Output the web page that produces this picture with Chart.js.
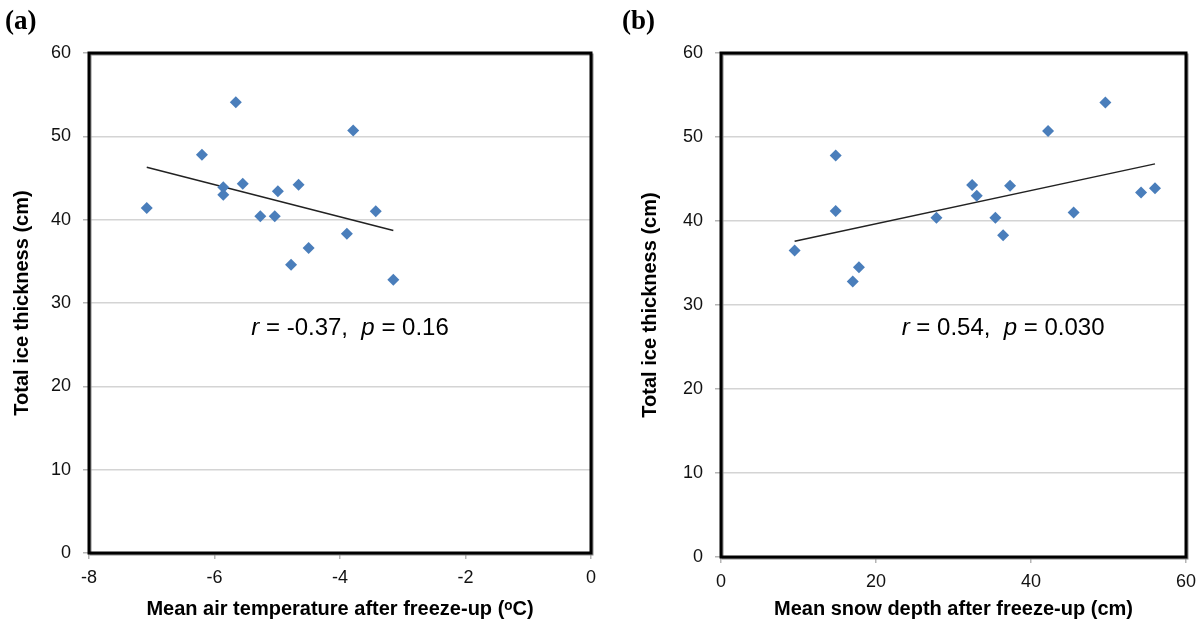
<!DOCTYPE html>
<html>
<head>
<meta charset="utf-8">
<script src="https://cdn.jsdelivr.net/npm/chart.js@4.4.1/dist/chart.umd.min.js"></script>
<style>
  html, body { margin: 0; padding: 0; background: #fff; }
  #wrap { position: relative; width: 1200px; height: 631px; }
  .panel { position: absolute; top: 0; width: 600px; height: 631px; }
</style>
</head>
<body>
<div id="wrap">
  <div class="panel" style="left:0"><canvas id="chartA" width="600" height="631"></canvas></div>
  <div class="panel" style="left:600px"><canvas id="chartB" width="600" height="631"></canvas></div>
</div>
<script>
// (a) mean air temperature after freeze-up vs total ice thickness
const airTemp = [-7.08, -6.20, -5.66, -5.86, -5.86, -5.55, -5.27, -5.04, -4.99, -4.66, -4.78, -4.50, -3.89, -3.79, -3.43, -3.15]
const iceA = [41.4, 47.8, 54.1, 43.9, 43.0, 44.3, 40.4, 40.4, 43.4, 44.2, 34.6, 36.6, 38.3, 50.7, 41.0, 32.8]
const trendAx = [-7.08, -3.15]
const trendAy = [46.3, 38.7]

// (b) mean snow depth after freeze-up vs total ice thickness
const snowDepth = [9.5, 14.8, 14.8, 17.0, 17.8, 27.8, 32.4, 33.0, 35.4, 36.4, 37.3, 42.2, 45.5, 49.6, 54.2, 56.0]
const iceB = [36.5, 47.8, 41.2, 32.8, 34.5, 40.4, 44.3, 43.0, 40.4, 38.3, 44.2, 50.7, 41.0, 54.1, 43.4, 43.9]
const trendBx = [9.5, 56.0]
const trendBy = [37.6, 46.8]

const yTicks = [0, 10, 20, 30, 40, 50, 60]
const xTicksA = [-8, -6, -4, -2, 0]
const xTicksB = [0, 20, 40, 60]

const SANS = "'Liberation Sans', Arial, sans-serif"
const SERIF = "'Liberation Serif', 'Times New Roman', serif"
const BLUE = "#4a7ebb"

const toPoints = (xs, ys) => xs.map((x, i) => ({ x: x, y: ys[i] }))

// Frame around the plot area, panel letter and the r / p note
const decorPlugin = {
  id: "decor",
  afterDatasetsDraw(chart, args, opts) {
    const { ctx, chartArea: a, scales } = chart
    ctx.save()
    ctx.lineJoin = "miter"
    ctx.strokeStyle = "#8a8a8a"
    ctx.lineWidth = 2
    ctx.strokeRect(a.left + 1.5, a.top + 1.5, a.right - a.left, a.bottom - a.top)
    ctx.strokeStyle = "#000"
    ctx.lineWidth = 3
    ctx.strokeRect(a.left, a.top, a.right - a.left, a.bottom - a.top)

    ctx.fillStyle = "#000"
    ctx.textBaseline = "middle"
    ctx.textAlign = "left"
    ctx.font = "bold 27px " + SERIF
    ctx.fillText(opts.letter, opts.letterX, 22)

    const parts = opts.note
    const fontOf = (italic) => (italic ? "italic " : "") + "24px " + SANS
    let total = 0
    parts.forEach(([text, italic]) => { ctx.font = fontOf(italic); total += ctx.measureText(text).width })
    let x = scales.x.getPixelForValue(opts.noteAt[0]) - total / 2
    const y = scales.y.getPixelForValue(opts.noteAt[1])
    parts.forEach(([text, italic]) => {
      ctx.font = fontOf(italic)
      ctx.fillText(text, x, y)
      x += ctx.measureText(text).width
    })
    ctx.restore()
  }
}

function makePanel(id, p) {
  return new Chart(document.getElementById(id), {
    type: "scatter",
    data: {
      datasets: [
        {
          data: toPoints(p.xs, p.ys),
          pointStyle: "rectRot",
          pointRadius: 6,
          pointHoverRadius: 6,
          backgroundColor: BLUE,
          borderColor: BLUE,
          borderWidth: 0
        },
        {
          type: "line",
          data: toPoints(p.trendX, p.trendY),
          borderColor: "#222",
          borderWidth: 1.5,
          pointRadius: 0,
          fill: false
        }
      ]
    },
    options: {
      responsive: false,
      animation: false,
      layout: { padding: { top: 53, right: p.padRight, bottom: 0, left: 0 } },
      plugins: {
        legend: { display: false },
        tooltip: { enabled: false },
        decor: { letter: p.letter, letterX: p.letterX, note: p.note, noteAt: p.noteAt }
      },
      scales: {
        x: {
          type: "linear",
          min: p.xTicks[0],
          max: p.xTicks[p.xTicks.length - 1],
          afterBuildTicks: (scale) => { scale.ticks = p.xTicks.map((v) => ({ value: v })) },
          afterFit: (scale) => {
            scale.height = p.xAxisHeight
            // let the layout padding alone decide where the plot ends
            scale.paddingLeft = 0
            scale.paddingRight = 0
          },
          border: { display: false },
          grid: { drawOnChartArea: false, drawTicks: true, tickLength: 6, tickColor: "#b5b5b5", lineWidth: 1.5 },
          ticks: { color: "#111", padding: 8, font: { family: SANS, size: 18 } },
          title: {
            display: true,
            text: p.xTitle,
            color: "#000",
            padding: { top: 0, bottom: 10 },
            font: { family: SANS, size: 20, weight: "bold" }
          }
        },
        y: {
          min: 0,
          max: 60,
          afterBuildTicks: (scale) => { scale.ticks = yTicks.map((v) => ({ value: v })) },
          afterFit: (scale) => { scale.width = p.yAxisWidth },
          border: { display: false },
          grid: { color: "#d4d4d4", lineWidth: 1.5, tickLength: 6, tickColor: "#b5b5b5" },
          ticks: { color: "#111", padding: 12, font: { family: SANS, size: 18 } },
          title: {
            display: true,
            text: "Total ice thickness (cm)",
            color: "#000",
            padding: { top: p.yTitlePad, bottom: 0 },
            font: { family: SANS, size: 20, weight: "bold" }
          }
        }
      }
    },
    plugins: [ decorPlugin ]
  })
}

makePanel("chartA", {
  xs: airTemp, ys: iceA, trendX: trendAx, trendY: trendAy,
  xTicks: xTicksA,
  xTitle: "Mean air temperature after freeze-up (\u1d52C)",
  padRight: 9, xAxisHeight: 78, yAxisWidth: 89, yTitlePad: 10,
  letter: "(a)", letterX: 5,
  note: [["r", true], [" = -0.37,  ", false], ["p", true], [" = 0.16", false]],
  noteAt: [-3.84, 27.0]
})

makePanel("chartB", {
  xs: snowDepth, ys: iceB, trendX: trendBx, trendY: trendBy,
  xTicks: xTicksB,
  xTitle: "Mean snow depth after freeze-up (cm)",
  padRight: 14, xAxisHeight: 74, yAxisWidth: 121, yTitlePad: 38,
  letter: "(b)", letterX: 22,
  note: [["r", true], [" = 0.54,  ", false], ["p", true], [" = 0.030", false]],
  noteAt: [36.4, 27.2]
})
</script>
</body>
</html>
